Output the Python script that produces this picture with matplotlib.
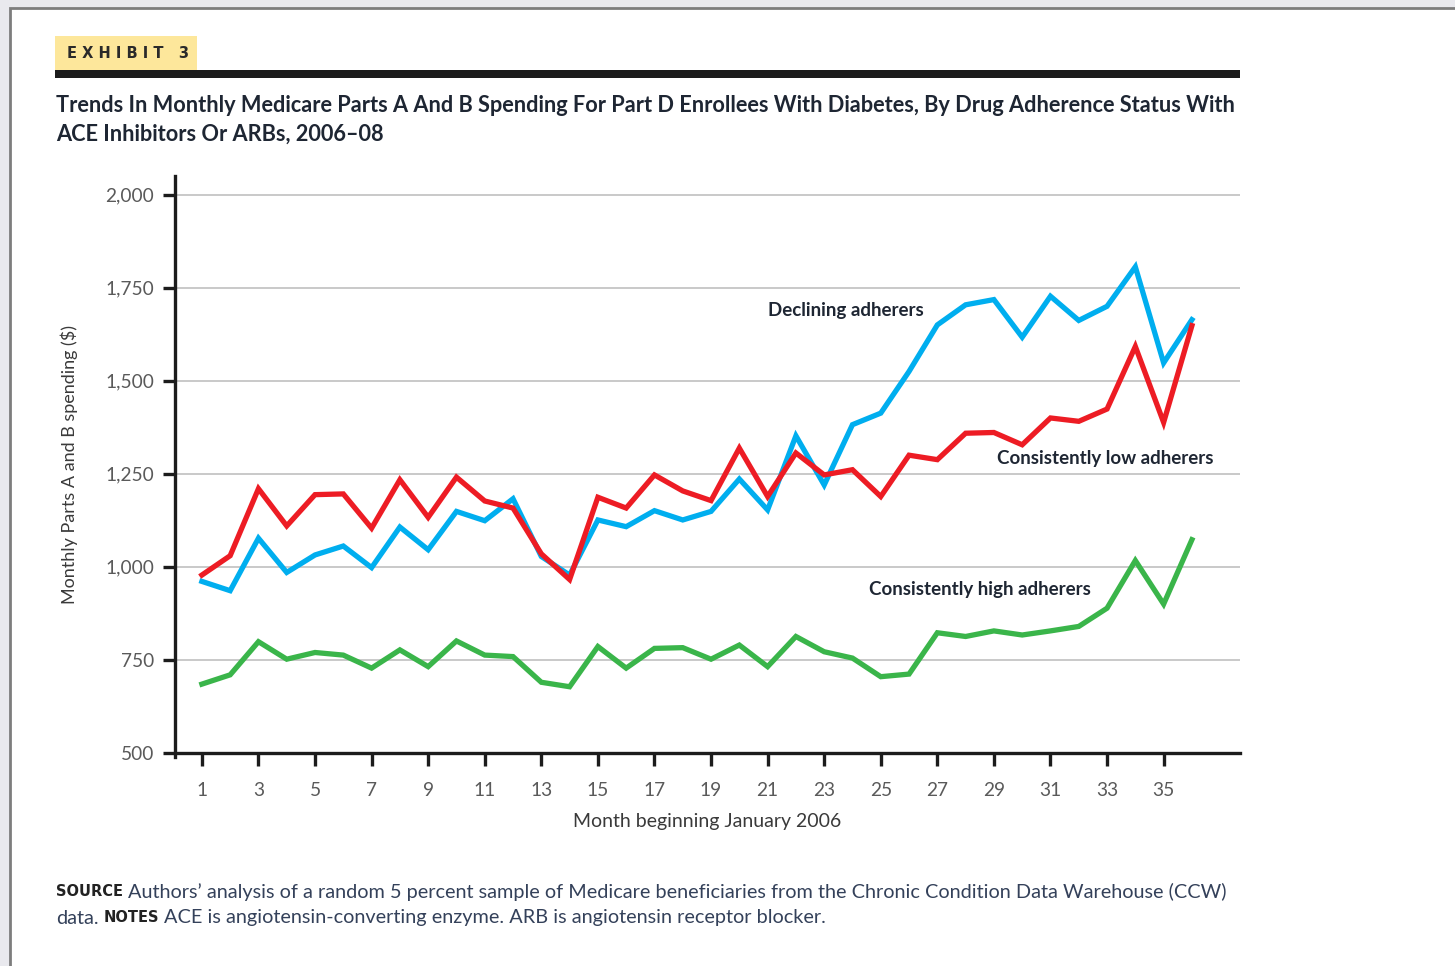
import matplotlib
matplotlib.use("Agg")
import matplotlib.pyplot as plt
from matplotlib.patches import Rectangle
import numpy as np

W, H = 1455, 966

months = list(range(1, 37))
declining = [961, 936, 1077, 985, 1032, 1056, 998, 1107, 1046, 1149, 1124, 1183,
             1028, 978, 1126, 1108, 1151, 1126, 1149, 1236, 1153, 1352, 1220, 1382,
             1413, 1525, 1650, 1704, 1718, 1617, 1727, 1662, 1700, 1806, 1548, 1664]
low = [978, 1030, 1210, 1110, 1194, 1196, 1104, 1234, 1133, 1241, 1177, 1158,
       1035, 966, 1187, 1158, 1247, 1204, 1178, 1319, 1189, 1306, 1247, 1261,
       1189, 1300, 1288, 1359, 1361, 1328, 1400, 1391, 1424, 1592, 1388, 1648]
high = [685, 710, 799, 752, 770, 763, 728, 777, 732, 801, 763, 759,
        690, 678, 786, 728, 781, 783, 752, 790, 732, 813, 772, 755,
        705, 712, 823, 813, 828, 817, 828, 840, 889, 1017, 900, 1073]

y_ticks = [500, 750, 1000, 1250, 1500, 1750, 2000]
x_ticks = list(range(1, 37, 2))

series_labels = ["Declining adherers", "Consistently low adherers", "Consistently high adherers"]

BLUE = "#00aeef"
RED = "#ed1c24"
GREEN = "#3ab54a"
TXT = "#1e2633"
GRAY = "#5a5a5a"

fig = plt.figure(figsize=(W / 100, H / 100), dpi=100, facecolor="#e9e9ee")

def fx(x):
    return x / W

def fy(y):
    return 1 - y / H

# page
page = Rectangle((fx(10), fy(1000)), fx(1500) - fx(10), fy(8) - fy(1000),
                 transform=fig.transFigure, facecolor="white", edgecolor="#7d7d7d",
                 linewidth=2.0, zorder=-10)
fig.patches.append(page)

# exhibit tag
fig.patches.append(Rectangle((fx(55), fy(71)), fx(197) - fx(55), fy(36) - fy(71),
                             transform=fig.transFigure, facecolor="#fde79b",
                             edgecolor="none", zorder=-5))
fig.text(fx(67), fy(53), "E X H I B I T   3", fontsize=10.5, fontweight="bold",
         family="DejaVu Sans", color="#2a2a2a", va="center", ha="left", zorder=2)
fig.patches.append(Rectangle((fx(55), fy(78)), fx(1240) - fx(55), fy(70) - fy(78),
                             transform=fig.transFigure, facecolor="#1c1c1c",
                             edgecolor="none", zorder=-4))

title1 = ("Trends In Monthly Medicare Parts A And B Spending For Part D Enrollees With "
          "Diabetes, By Drug Adherence Status With")
title2 = "ACE Inhibitors Or ARBs, 2006\u201308"
fig.text(fx(56), fy(105), title1, fontsize=15.7, fontweight="bold", family="Lato",
         color=TXT, va="center", ha="left")
fig.text(fx(56), fy(134), title2, fontsize=15.7, fontweight="bold", family="Lato",
         color=TXT, va="center", ha="left")

# axes
ax = fig.add_axes([fx(175), fy(753), fx(1240) - fx(175), fy(176) - fy(753)])
ax.set_facecolor("white")
ax.patch.set_alpha(0)
ax.plot(months, declining, color=BLUE, lw=3.8, solid_joinstyle="miter", zorder=3)
ax.plot(months, low, color=RED, lw=3.8, solid_joinstyle="miter", zorder=3)
ax.plot(months, high, color=GREEN, lw=3.8, solid_joinstyle="miter", zorder=3)

ax.set_xlim(0.05, 37.7)
ax.set_ylim(500, 2050)
ax.set_yticks(y_ticks)
ax.set_yticklabels([f"{v:,}" for v in y_ticks])
ax.set_xticks(x_ticks)
ax.set_xticklabels([str(v) for v in x_ticks])
for v in y_ticks[1:]:
    ax.axhline(v, color="#c9c9c9", lw=1.4, zorder=1)

for s in ["top", "right"]:
    ax.spines[s].set_visible(False)
for s in ["left", "bottom"]:
    ax.spines[s].set_linewidth(2.4)
    ax.spines[s].set_color("#1c1c1c")
ax.spines["left"].set_bounds(490, 2050)
ax.tick_params(axis="both", direction="out", length=9, width=2.4, color="#1c1c1c",
               labelsize=13.8, labelcolor=GRAY)
ax.tick_params(axis="x", pad=12)
ax.tick_params(axis="y", pad=6)
for lab in ax.get_xticklabels() + ax.get_yticklabels():
    lab.set_family("Lato")

ax.set_xlabel("Month beginning January 2006", fontsize=14, color="#3a3a3a",
              family="Lato", labelpad=10)
ax.set_ylabel("Monthly Parts A and B spending ($)", fontsize=13, color="#3a3a3a",
              family="Lato", labelpad=20)

ax.text(23.75, 1688, series_labels[0], fontsize=13.5, fontweight="bold", family="Lato",
        color=TXT, ha="center", va="center")
ax.text(29.1, 1290, series_labels[1], fontsize=13.5, fontweight="bold", family="Lato",
        color=TXT, ha="left", va="center")
ax.text(28.5, 938, series_labels[2], fontsize=13.5, fontweight="bold", family="Lato",
        color=TXT, ha="center", va="center")

# source / notes
src_col = "#34415a"
t = fig.text(fx(56), fy(892), "SOURCE", fontsize=10.5, fontweight="bold",
             family="DejaVu Sans", color="#222222", va="center", ha="left")
fig.canvas.draw()
r = fig.canvas.get_renderer()
bb = t.get_window_extent(r)
fig.text((bb.x1 + 5) / W, fy(892),
         "Authors\u2019 analysis of a random 5 percent sample of Medicare beneficiaries "
         "from the Chronic Condition Data Warehouse (CCW)",
         fontsize=14.3, family="Lato", color=src_col, va="center", ha="left")
t2 = fig.text(fx(56), fy(918), "data.", fontsize=14.3, family="Lato", color=src_col,
              va="center", ha="left")
bb2 = t2.get_window_extent(r)
t3 = fig.text((bb2.x1 + 5) / W, fy(918), "NOTES", fontsize=10.5, fontweight="bold",
              family="DejaVu Sans", color="#222222", va="center", ha="left")
bb3 = t3.get_window_extent(r)
fig.text((bb3.x1 + 5) / W, fy(918),
         "ACE is angiotensin-converting enzyme. ARB is angiotensin receptor blocker.",
         fontsize=14.3, family="Lato", color=src_col, va="center", ha="left")

fig.savefig("out.png", dpi=100, facecolor=fig.get_facecolor())
